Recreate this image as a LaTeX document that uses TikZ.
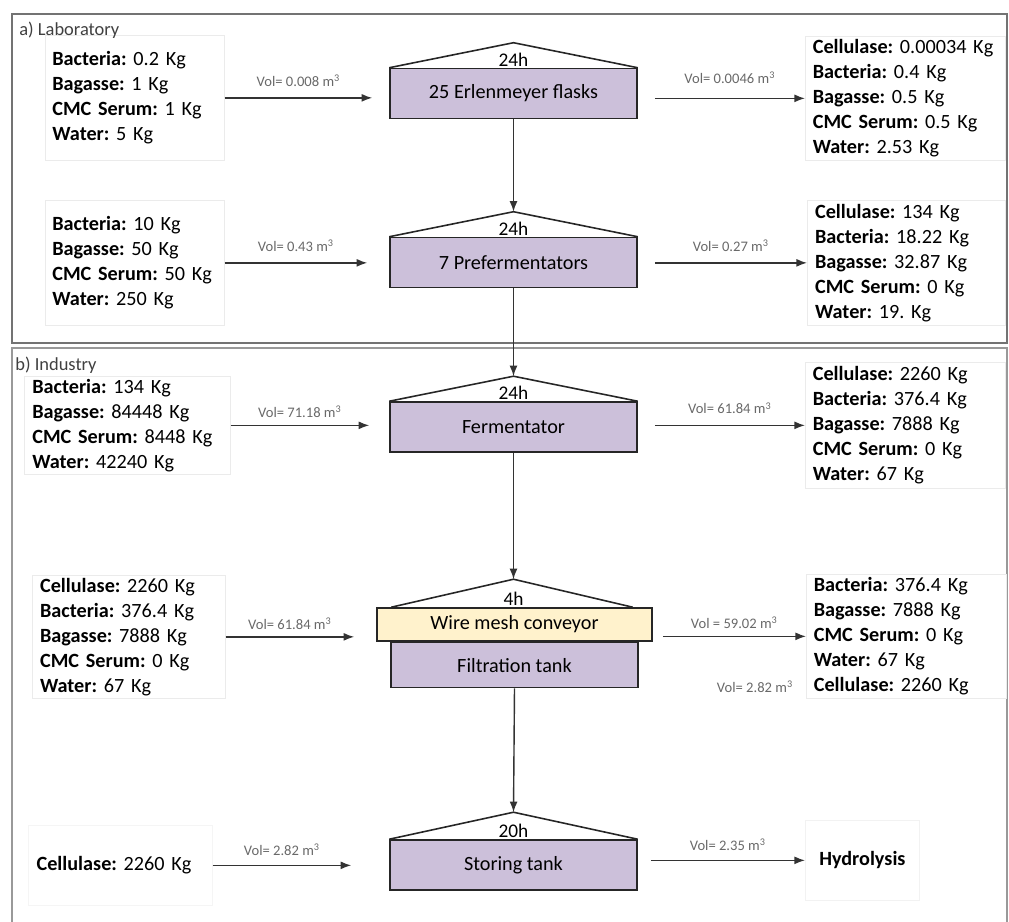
\documentclass[tikz,border=0pt]{standalone}
\usepackage{fontspec}
\setmainfont{Carlito}
\usetikzlibrary{arrows.meta, positioning, calc}
\definecolor{tankfill}{RGB}{204,192,218}
\definecolor{meshfill}{RGB}{255,242,204}
\definecolor{volgray}{RGB}{105,105,105}
\frenchspacing

\begin{document}
\begin{tikzpicture}[
    x=0.02cm, y=-0.02cm,
    tank/.style={rectangle, draw=black!85, line width=0.9pt, fill=tankfill,
                 minimum width=4.94cm, minimum height=1cm, align=center,
                 font=\fontsize{11.5}{13}\selectfont},
    mesh/.style={tank, fill=meshfill, minimum width=5.5cm, minimum height=0.66cm},
    stream/.style={rectangle, draw=black!8, fill=white, align=left,
                   inner xsep=4pt, inner ysep=1pt, anchor=north west,
                   font=\fontsize{11.5}{14.2}\selectfont},
    roof/.style={draw=black!85, line width=0.9pt},
    hours/.style={font=\fontsize{11}{11}\selectfont, inner sep=0pt, anchor=south},
    vol/.style={font=\fontsize{8.3}{9}\selectfont, text=volgray, inner sep=1pt},
    frame/.style={draw=black!55, line width=1.2pt},
    section/.style={font=\fontsize{10.5}{10.5}\selectfont, text=black!75,
                    anchor=north west, inner sep=0pt},
    arrow/.style={-{Latex[length=6pt,width=4.5pt]}, line width=0.8pt, color=black!80}
]
\useasboundingbox (0,0) rectangle (1009,921);

% frames
\draw[frame] (12,14) rectangle (1007,343);
\draw[frame, draw=black!40] (12,925) -- (12,348) -- (1007,348) -- (1007,925);

% process units
\node[tank] (erlen) at (513.5,93.5) {25 Erlenmeyer flasks};
\node[tank] (prefer) at (513.5,262.5) {7 Prefermentators};
\node[tank] (ferm) at (513.5,427) {Fermentator};
\node[mesh] (mesh) at (514.5,624.5) {Wire mesh conveyor};
\node[tank, minimum height=0.9cm, below=0pt of mesh] (filt) {Filtration tank};
\node[tank] (store) at (513.5,865) {Storing tank};

\coordinate (erlenroof) at ($(erlen.north)+(0,-25)$);
\coordinate (preferroof) at ($(prefer.north)+(0,-25)$);
\coordinate (fermroof) at ($(ferm.north)+(0,-25)$);
\coordinate (storeroof) at ($(store.north)+(0,-27)$);
\coordinate (meshroof) at ($(mesh.north)+(-1,-28)$);
\foreach \t/\h in {erlen/24h, prefer/24h, ferm/24h, store/20h}{
  \draw[roof] (\t.north west) -- (\t roof) -- (\t.north east);
  \node[hours] at ($(\t.north)+(0,-1)$) {\h};
}
\draw[roof] ($(mesh.north west)+(15,0)$) -- (meshroof) -- ($(mesh.north east)+(-20,0)$);
\node[hours] at ($(mesh.north)+(-1,-1)$) {4h};

% streams in
\node[stream, minimum width=3.46cm, minimum height=2.5cm, text width=3.3cm] (labin1) at (45,35)
  {\textbf{Bacteria:} 0.2 Kg\\\textbf{Bagasse:} 1 Kg\\\textbf{CMC Serum:} 1 Kg\\\textbf{Water:} 5 Kg};
\node[stream, minimum width=3.46cm, minimum height=2.5cm, text width=3.3cm] (labin2) at (45,200)
  {\textbf{Bacteria:} 10 Kg\\\textbf{Bagasse:} 50 Kg\\\textbf{CMC Serum:} 50 Kg\\\textbf{Water:} 250 Kg};
\node[stream, minimum width=4.12cm, minimum height=1.96cm, text width=3.8cm] (indin1) at (24,376)
  {\textbf{Bacteria:} 134 Kg\\\textbf{Bagasse:} 84448 Kg\\\textbf{CMC Serum:} 8448 Kg\\\textbf{Water:} 42240 Kg};
\node[stream, minimum width=3.86cm, minimum height=2.46cm, text width=3.55cm] (indin2) at (32,575)
  {\textbf{Cellulase:} 2260 Kg\\\textbf{Bacteria:} 376.4 Kg\\\textbf{Bagasse:} 7888 Kg\\\textbf{CMC Serum:} 0 Kg\\\textbf{Water:} 67 Kg};
\node[stream, draw=black!4, minimum width=3.68cm, minimum height=1.6cm, text width=3.35cm] (cell) at (28,825)
  {\textbf{Cellulase:} 2260 Kg};

% streams out
\node[stream, minimum width=4cm, minimum height=2.48cm, text width=3.7cm] (labout1) at (805,36)
  {\textbf{Cellulase:} 0.00034 Kg\\\textbf{Bacteria:} 0.4 Kg\\\textbf{Bagasse:} 0.5 Kg\\\textbf{CMC Serum:} 0.5 Kg\\\textbf{Water:} 2.53 Kg};
\node[stream, minimum width=3.96cm, minimum height=2.5cm, text width=3.65cm] (labout2) at (807,200)
  {\textbf{Cellulase:} 134 Kg\\\textbf{Bacteria:} 18.22 Kg\\\textbf{Bagasse:} 32.87 Kg\\\textbf{CMC Serum:} 0 Kg\\\textbf{Water:} 19. Kg};
\node[stream, minimum width=4cm, minimum height=2.52cm, text width=3.7cm] (indout1) at (805,362)
  {\textbf{Cellulase:} 2260 Kg\\\textbf{Bacteria:} 376.4 Kg\\\textbf{Bagasse:} 7888 Kg\\\textbf{CMC Serum:} 0 Kg\\\textbf{Water:} 67 Kg};
\node[stream, minimum width=4cm, minimum height=2.48cm, text width=3.7cm] (indout2) at (806,574)
  {\textbf{Bacteria:} 376.4 Kg\\\textbf{Bagasse:} 7888 Kg\\\textbf{CMC Serum:} 0 Kg\\\textbf{Water:} 67 Kg\\\textbf{Cellulase:} 2260 Kg};
\node[stream, draw=black!5, align=center, minimum width=2.24cm, minimum height=1.6cm, text width=2cm] (hydro) at (805,820)
  {\textbf{Hydrolysis}};
\node[vol] (volrest) at (755,687) {Vol= 2.82 m\textsuperscript{3}};

% flows
\draw[arrow] (labin1.east) -- ($(labin1.east -| erlen.west)+(-17,0)$)
  node[vol, midway, above=5pt] {Vol= 0.008 m\textsuperscript{3}};
\draw[arrow] ($(erlen.east |- labout1.west)+(17,0)$) -- (labout1.west)
  node[vol, midway, above=7pt] {Vol= 0.0046 m\textsuperscript{3}};
\draw[arrow] (labin2.east) -- ($(labin2.east -| prefer.west)+(-22,0)$)
  node[vol, midway, above=5pt] {Vol= 0.43 m\textsuperscript{3}};
\draw[arrow] ($(prefer.east |- labout2.west)+(17,0)$) -- (labout2.west)
  node[vol, midway, above=5pt] {Vol= 0.27 m\textsuperscript{3}};
\draw[arrow] (indin1.east) -- ($(indin1.east -| ferm.west)+(-20,0)$)
  node[vol, midway, above=3pt] {Vol= 71.18 m\textsuperscript{3}};
\draw[arrow] ($(ferm.east |- indout1.west)+(17,0)$) -- (indout1.west)
  node[vol, midway, above=5pt] {Vol= 61.84 m\textsuperscript{3}};
\draw[arrow] (indin2.east) -- ($(indin2.east -| mesh.west)+(-22,0)$)
  node[vol, midway, above=3pt] {Vol= 61.84 m\textsuperscript{3}};
\draw[arrow] ($(mesh.east |- indout2.west)+(10,0)$) -- (indout2.west)
  node[vol, midway, above=3pt] {Vol = 59.02 m\textsuperscript{3}};
\draw[arrow] (cell.east) -- ($(cell.east -| store.west)+(-38,0)$)
  node[vol, midway, above=4pt] {Vol= 2.82 m\textsuperscript{3}};
\draw[arrow] ($(store.east |- hydro.west)+(13,0)$) -- (hydro.west)
  node[vol, midway, above=4pt] {Vol= 2.35 m\textsuperscript{3}};

\draw[arrow] (erlen.south) -- (preferroof);
\draw[arrow] (prefer.south) -- (fermroof);
\draw[arrow] (ferm.south) -- (meshroof);
\draw[arrow] (filt.south) -- (storeroof);

% section titles
\node[section] (lab) at (19,22) {a) Laboratory};
\node[section] (ind) at (15,357) {b) Industry};
\end{tikzpicture}
\end{document}
